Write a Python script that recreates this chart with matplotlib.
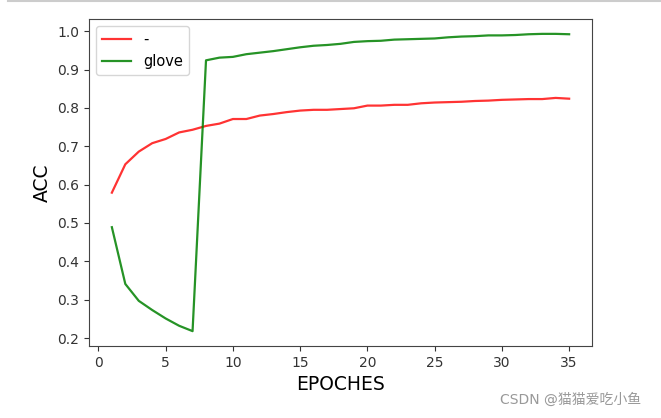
import matplotlib
matplotlib.use("Agg")
import matplotlib.pyplot as plt
from matplotlib.lines import Line2D

epochs = list(range(1, 36))
acc_dash = [0.579, 0.653, 0.686, 0.708, 0.719, 0.736, 0.743, 0.753, 0.759, 0.771,
            0.771, 0.780, 0.784, 0.789, 0.793, 0.795, 0.795, 0.797, 0.799, 0.806,
            0.806, 0.808, 0.808, 0.812, 0.814, 0.815, 0.816, 0.818, 0.819, 0.821,
            0.822, 0.823, 0.823, 0.826, 0.824]
acc_glove = [0.489, 0.341, 0.297, 0.273, 0.251, 0.232, 0.218, 0.924, 0.931, 0.933,
             0.940, 0.944, 0.948, 0.953, 0.958, 0.962, 0.964, 0.967, 0.972, 0.974,
             0.975, 0.978, 0.979, 0.980, 0.981, 0.984, 0.986, 0.987, 0.989, 0.989,
             0.990, 0.992, 0.993, 0.993, 0.992]
labels = ["-", "glove"]

plt.rcParams['font.family'] = ['DejaVu Sans', 'Noto Sans CJK SC']

W, H = 661, 418
fig = plt.figure(figsize=(W / 100, H / 100), dpi=100)
ax = fig.add_axes([89 / W, 1 - 346 / H, (592 - 89) / W, (346 - 19) / H])

ax.plot(epochs, acc_dash, color='red', alpha=0.8, lw=1.6, label=labels[0])
ax.plot(epochs, acc_glove, color='green', alpha=0.85, lw=1.6, label=labels[1])
ax.set_xlabel("EPOCHES", fontsize=13.5)
ax.set_ylabel("ACC", fontsize=13.5)
ax.tick_params(labelsize=10, colors='#333333')
ax.legend(loc='upper left', fontsize=10.5)
for s in ax.spines.values():
    s.set_color('#444444')

fig.add_artist(Line2D([8 / W, 1], [1 - 1 / H, 1 - 1 / H], transform=fig.transFigure,
                      color='#cccccc', lw=1.5))
fig.text(641 / W, 1 - 400 / H, "CSDN @猫猫爱吃小鱼", ha='right', va='center',
         fontsize=10, color='#999999', family=['DejaVu Sans', 'Noto Sans CJK SC'])

fig.savefig("out.png", dpi=100)
